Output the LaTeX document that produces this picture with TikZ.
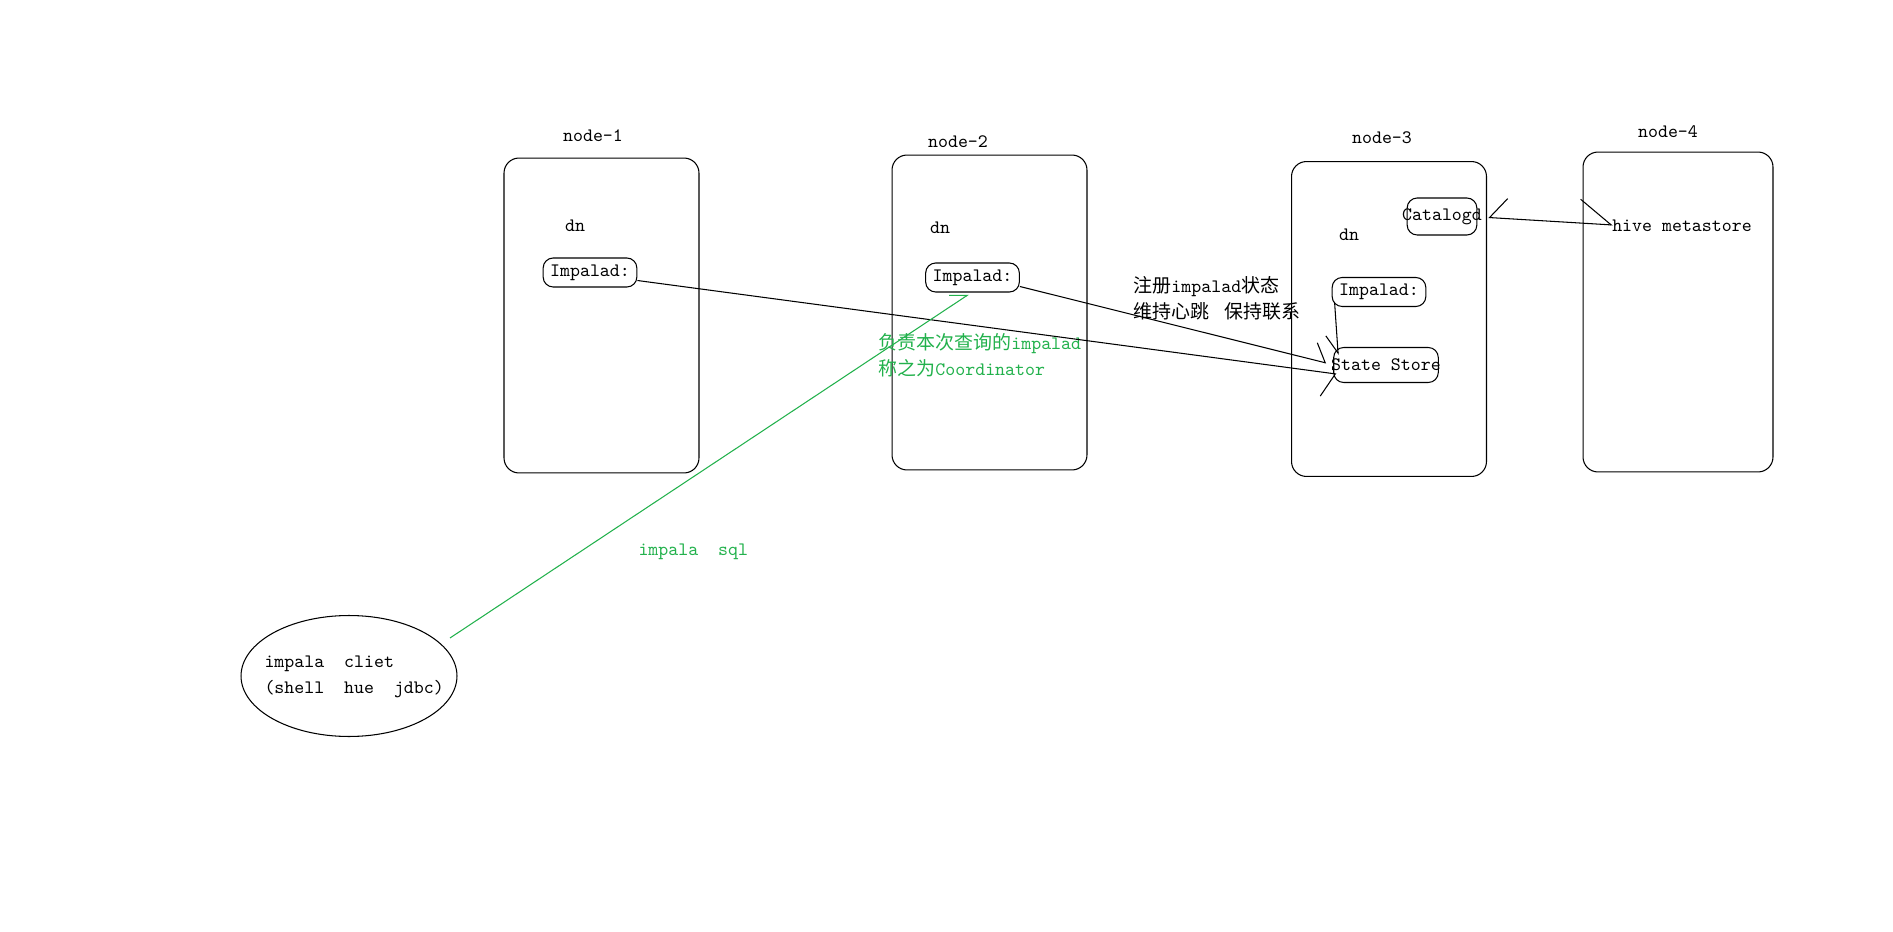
\documentclass[tikz,border=0pt]{standalone}
\usepackage{fontspec}
\usetikzlibrary{shapes.geometric,arrows.meta,calc}
\newfontfamily\cjk{Noto Sans CJK SC}
\definecolor{paintgreen}{RGB}{34,177,76}

\begin{document}
\begin{tikzpicture}[x=0.02cm, y=-0.02cm, font=\ttfamily\fontsize{10.8}{15}\selectfont, line width=0.6pt]
    % 定义样式
    \tikzstyle{hostbox}=[draw, rounded corners=0.3cm, minimum width=3.9cm, minimum height=6.3cm, inner sep=0pt]
    \tikzstyle{procbox}=[draw, rounded corners=0.2cm, minimum height=0.58cm, inner ysep=0pt, inner xsep=0.14cm]
    \tikzstyle{plain}=[inner sep=0pt]
    \tikzstyle{link}=[black, line width=0.6pt]
    \tikzstyle{greenlink}=[paintgreen, line width=0.6pt]

    \useasboundingbox (0,0) rectangle (1893,932);

    % 四台机器
    \node[hostbox] (node1) at (601.5,315.5) {};
    \node[hostbox] (node2) at (989.5,312.5) {};
    \node[hostbox] (node3) at (1389,319) {};
    \node[hostbox, minimum width=3.8cm, minimum height=6.4cm] (node4) at (1678,312) {};

    \node[plain] (name1) at (593,136) {node-1};
    \node[plain] (name2) at (958,142) {node-2};
    \node[plain] (name3) at (1382,138) {node-3};
    \node[plain] (name4) at (1668,132) {node-4};

    \node[plain] (dn1) at (575,226) {dn};
    \node[plain] (dn2) at (940,228) {dn};
    \node[plain] (dn3) at (1349,235) {dn};

    % 各节点上的进程
    \node[procbox] (imp1) at (590,272.5) {Impalad:};
    \node[procbox] (imp2) at (972.5,277.5) {Impalad:};
    \node[procbox] (imp3) at (1379,292) {Impalad:};
    \node[procbox, inner xsep=-0.1cm, minimum height=0.74cm] (catalogd) at (1442,216.5) {Catalogd};
    \node[procbox, inner xsep=-0.05cm, minimum height=0.7cm] (statestore) at (1386,365) {State Store};
    \node[plain] (hive) at (1682,226) {hive metastore};

    % 客户端
    \node[draw, ellipse, minimum width=4.32cm, minimum height=2.42cm, inner sep=0pt] (client) at (349,676) {};
    \node[plain, align=left, anchor=west] (clienttext) at (264,677) {impala\ \ cliet\\(shell\ \ hue\ \ jdbc)};

    % 说明文字
    \node[plain, align=left, anchor=west] (regnote) at (1133,298.5) {{\cjk 注册}impalad{\cjk 状态}\\{\cjk 维持心跳}\hspace{0.3cm}{\cjk 保持联系}};
    \node[plain, align=left, anchor=west, text=paintgreen] (coordnote) at (878,355.5) {{\cjk 负责本次查询的}impalad\\{\cjk 称之为}Coordinator};
    \node[plain, anchor=west, text=paintgreen] (sqlnote) at (638,552) {impala\ \ sql};

    % 连线
    \draw[link, -{Straight Barb[right, length=0.24cm, width=0.96cm]}] ($(imp1.east)+(0,8)$) -- ($(statestore.west)+(3,9)$);
    \draw[link, -{Straight Barb[left, length=0.25cm, width=0.7cm]}] ($(imp2.east)+(0,9)$) -- ($(statestore.west)+(-7,-2)$);
    \draw[link, -{Straight Barb[right, length=0.36cm, width=0.44cm]}] ($(imp3.south west)+(3,-4)$) -- ($(statestore.north west)+(5,8)$);
    \draw[link, {Straight Barb[right, length=0.34cm, width=0.8cm]}-{Straight Barb[left, length=0.64cm, width=0.95cm]}] ($(catalogd.east)+(11,1)$) -- ($(hive.west)+(1,-1)$);
    \draw[greenlink, -{Straight Barb[left, length=0.3cm, width=0.4cm]}] ($(client.center)+(101,-38)$) -- ($(imp2.south)+(-4,2)$);
\end{tikzpicture}
\end{document}
